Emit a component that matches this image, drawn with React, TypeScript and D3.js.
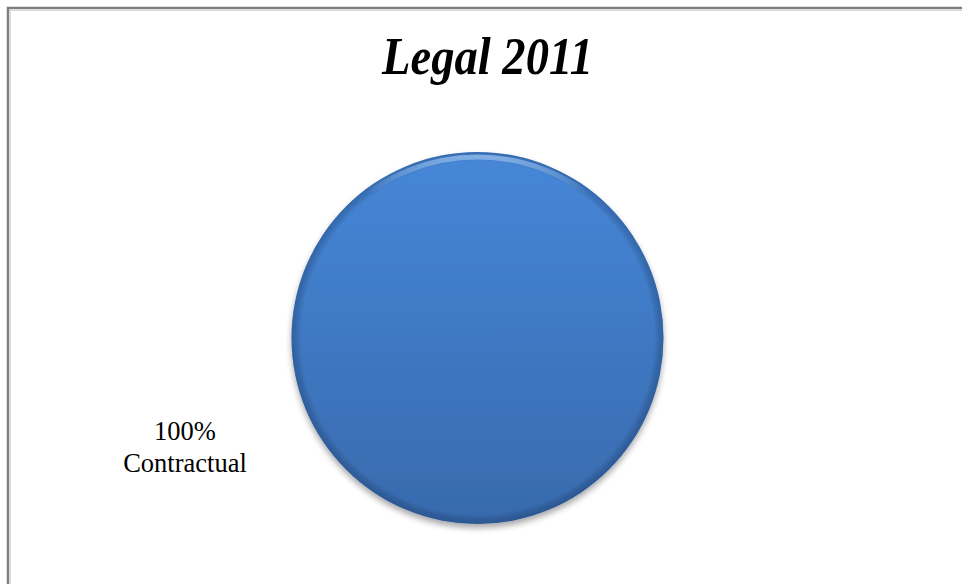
import React from "react";
import * as d3 from "d3";

const categories: string[] = ["Contractual"];
const values: number[] = [100];
const title = "Legal 2011";

const W = 962;
const H = 584;

export default function App() {
  const cx = 477.5;
  const cy = 338;
  const r = 186;
  const pie = d3.pie<number>().sort(null).startAngle(0).endAngle(2 * Math.PI);
  const arcs = pie(values);
  const arc = d3.arc<d3.PieArcDatum<number>>().innerRadius(0).outerRadius(r);
  const total = d3.sum(values);
  const fmt = (v: number) => d3.format(".0%")(v / total);

  return (
    <svg
      width={W}
      height={H}
      style={{ position: "absolute", left: 0, top: 0, background: "#fff" }}
      fontFamily="'Liberation Serif', 'Times New Roman', serif"
    >
      <defs>
        <linearGradient id="pieFill" x1="0" y1="0" x2="0" y2="1">
          <stop offset="0" stopColor="#4687d8" />
          <stop offset="1" stopColor="#386aad" />
        </linearGradient>
        <radialGradient id="rim" cx="0.5" cy="0.5" r="0.5">
          <stop offset="0.95" stopColor="#000" stopOpacity="0" />
          <stop offset="1" stopColor="#0d2a55" stopOpacity="0.3" />
        </radialGradient>
        <linearGradient id="hl" x1="0" y1="0" x2="0" y2="1">
          <stop offset="0" stopColor="#9cc4f4" stopOpacity="0.7" />
          <stop offset="0.1" stopColor="#9cc4f4" stopOpacity="0" />
        </linearGradient>
        <filter id="shadow" x="-20%" y="-20%" width="140%" height="140%">
          <feGaussianBlur in="SourceAlpha" stdDeviation="3" />
          <feOffset dx="0" dy="4" result="b" />
          <feComponentTransfer>
            <feFuncA type="linear" slope="0.35" />
          </feComponentTransfer>
          <feMerge>
            <feMergeNode />
            <feMergeNode in="SourceGraphic" />
          </feMerge>
        </filter>
      </defs>

      {/* outer chart border */}
      <rect x={8} y={8} width={W + 20} height={H + 20} fill="none" stroke="#7f7f7f" strokeWidth={2.5} />
      <rect x={10.5} y={10.5} width={W + 20} height={H + 20} fill="none" stroke="#d9d9d9" strokeWidth={1} />

      <text
        x={487.5}
        y={74}
        textAnchor="middle"
        fontSize={52}
        fontWeight="bold"
        fontStyle="italic"
        fill="#000"
        textLength={211}
        lengthAdjust="spacingAndGlyphs"
      >
        {title}
      </text>

      <g transform={`translate(${cx},${cy})`}>
        {arcs.map((a, i) => (
          <g key={categories[i]}>
            <path d={arc(a) || ""} fill="url(#pieFill)" filter="url(#shadow)" />
            <path d={arc(a) || ""} fill="url(#rim)" />
            <circle r={r - 3} cy={2} fill="none" stroke="url(#hl)" strokeWidth={5} />
          </g>
        ))}
      </g>

      {arcs.map((a, i) => (
        <text key={"l" + i} textAnchor="middle" fontSize={26.5} fill="#000">
          <tspan x={185} y={440}>{fmt(a.value)}</tspan>
          <tspan x={185} y={472}>{categories[i]}</tspan>
        </text>
      ))}
    </svg>
  );
}
